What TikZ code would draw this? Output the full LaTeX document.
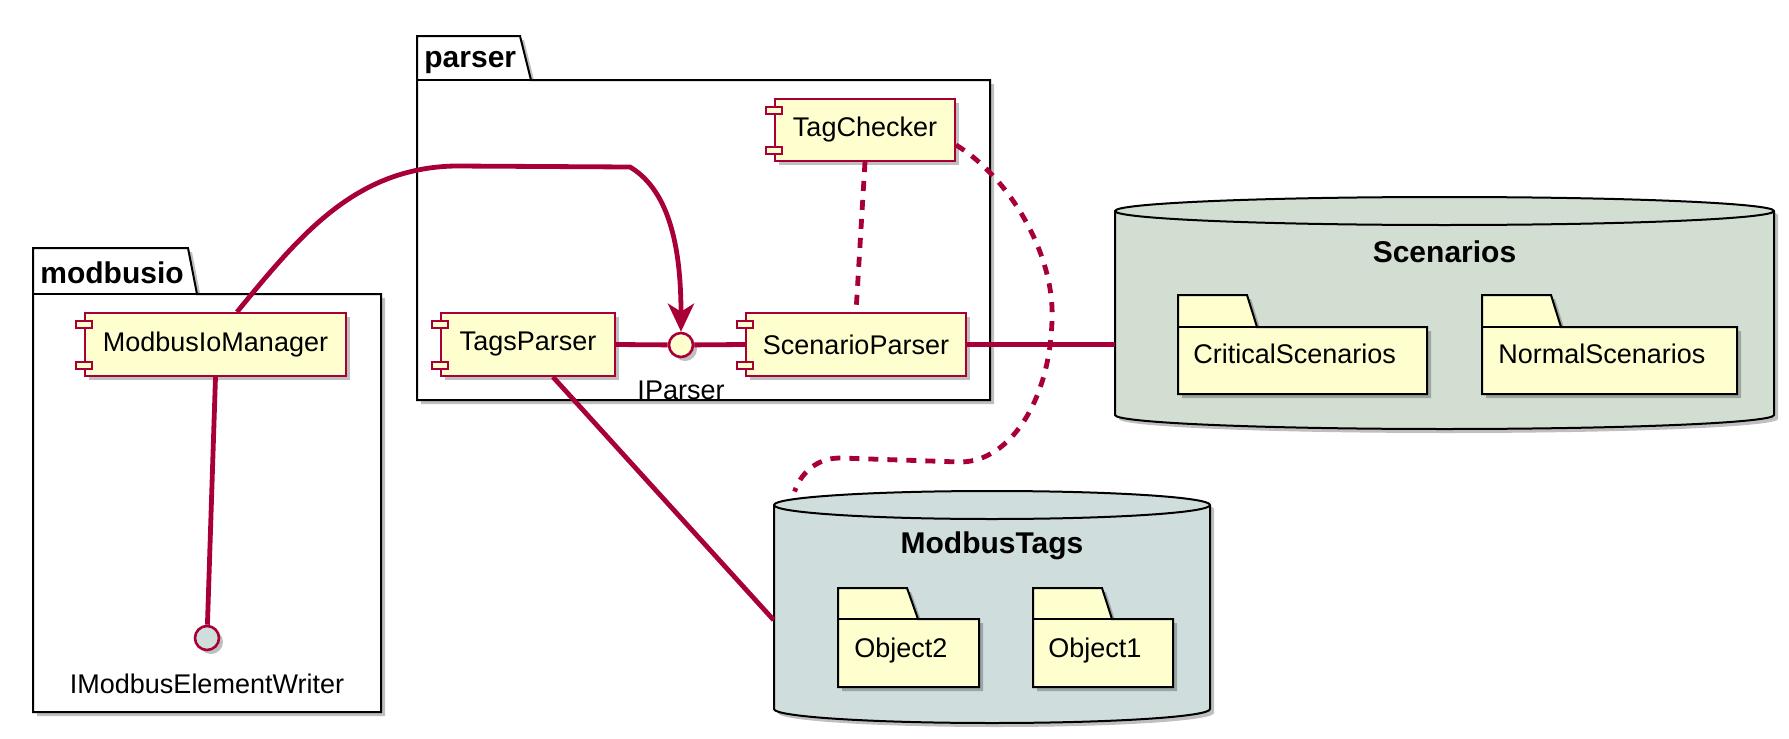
\documentclass[tikz,border=0pt]{standalone}
\usepackage{fontspec}
\setmainfont{Liberation Sans}
\usetikzlibrary{arrows.meta,shadows}

\definecolor{umlred}{HTML}{A80036}
\definecolor{umlfill}{HTML}{FEFECE}
\definecolor{scenfill}{HTML}{D3DED3}
\definecolor{tagsfill}{HTML}{CFDDDD}

\begin{document}
\begin{tikzpicture}[x=0.5pt,y=-0.5pt]
    \tikzstyle{shadowed} = [drop shadow={shadow xshift=2pt,shadow yshift=-2pt,opacity=0.25,fill=black}]
    \tikzstyle{comp} = [draw=umlred, fill=umlfill, line width=1pt, minimum height=31.5pt, inner sep=0pt, font=\fontsize{13.5}{16}\selectfont, shadowed]
    \tikzstyle{port} = [draw=umlred, fill=umlfill, line width=1pt]
    \tikzstyle{iface} = [draw=umlred, line width=1.3pt, circle, minimum size=12pt, inner sep=0pt, shadowed]
    \tikzstyle{ifacelabel} = [font=\fontsize{13.5}{16}\selectfont, inner sep=0pt, yshift=-11pt]
    \tikzstyle{pkg} = [draw=black, fill=white, line width=1pt, shadowed]
    \tikzstyle{cyl} = [draw=black, line width=1pt, shadowed]
    \tikzstyle{folder} = [draw=black, fill=umlfill, line width=1pt, shadowed]
    \tikzstyle{pkglabel} = [font=\fontsize{15}{18}\selectfont\bfseries, inner sep=0pt]
    \tikzstyle{txt} = [font=\fontsize{13.5}{16}\selectfont, inner sep=0pt]
    \tikzstyle{link} = [draw=umlred, line width=2.4pt]
    \tikzstyle{dots} = [link, dash pattern=on 5pt off 4.5pt]
    \tikzstyle{arrow} = [link, -{Stealth[length=14pt,width=13pt,inset=4pt]}]

    \useasboundingbox (0,0) rectangle (1789,739);

    % modbusio package
    \draw[pkg] (33,248) -- (188,248) -- (197,294) -- (381,294) -- (381,712) -- (33,712) -- cycle;
    \draw[line width=1pt] (33,294) -- (197,294);
    \node[pkglabel, anchor=base west] (modbusio) at (40,283) {modbusio};

    % parser package
    \draw[pkg] (417,36) -- (520,36) -- (531,80) -- (990,80) -- (990,400) -- (417,400) -- cycle;
    \draw[line width=1pt] (417,80) -- (531,80);
    \node[pkglabel, anchor=base west] (parser) at (424,68) {parser};

    % Scenarios database
    \draw[cyl, fill=scenfill] (1115,211) -- (1115,415) arc[start angle=180,end angle=360,x radius=164.75pt,y radius=7pt]
        -- (1774,211) arc[start angle=0,end angle=180,x radius=164.75pt,y radius=7pt] -- cycle;
    \draw[line width=1pt] (1115,211) arc[start angle=180,end angle=360,x radius=164.75pt,y radius=7pt];
    \node[inner sep=0pt, minimum width=329.5pt, minimum height=115.5pt] (scen) at (1444.5,313.5) {};
    \node[pkglabel, anchor=base] (scenlabel) at (1444.5,262) {Scenarios};

      % folders inside Scenarios
      \draw[folder] (1178,295) -- (1247,295) -- (1257,327) -- (1427,327) -- (1427,394) -- (1178,394) -- cycle;
      \draw[line width=1pt] (1178,327) -- (1257,327);
      \node[txt, anchor=base west] (critical) at (1193,363) {CriticalScenarios};

      \draw[folder] (1482,295) -- (1551,295) -- (1561,327) -- (1737,327) -- (1737,394) -- (1482,394) -- cycle;
      \draw[line width=1pt] (1482,327) -- (1561,327);
      \node[txt, anchor=base west] (normal) at (1498,363) {NormalScenarios};

    % ModbusTags database
    \draw[cyl, fill=tagsfill] (774,505) -- (774,709) arc[start angle=180,end angle=360,x radius=109pt,y radius=7pt]
        -- (1210,505) arc[start angle=0,end angle=180,x radius=109pt,y radius=7pt] -- cycle;
    \draw[line width=1pt] (774,505) arc[start angle=180,end angle=360,x radius=109pt,y radius=7pt];
    \node[inner sep=0pt, minimum width=218pt, minimum height=116pt] (tags) at (992,607) {};
    \node[pkglabel, anchor=base] (tagslabel) at (992,553) {ModbusTags};

      % folders inside ModbusTags
      \draw[folder] (838,588) -- (907,588) -- (918,619) -- (979,619) -- (979,687) -- (838,687) -- cycle;
      \draw[line width=1pt] (838,619) -- (918,619);
      \node[txt, anchor=base west] (obj2) at (854,657) {Object2};

      \draw[folder] (1033,588) -- (1102,588) -- (1112,619) -- (1173,619) -- (1173,687) -- (1033,687) -- cycle;
      \draw[line width=1pt] (1033,619) -- (1112,619);
      \node[txt, anchor=base west] (obj1) at (1048,657) {Object1};

    % components
    \node[comp, minimum width=130.5pt] (mim) at (215.5,344.5) {ModbusIoManager};
    \node[comp, minimum width=87pt] (tagsp) at (528,344.5) {TagsParser};
    \node[comp, minimum width=110pt] (scenp) at (856,344.5) {ScenarioParser};
    \node[comp, minimum width=90pt, minimum height=31pt] (tagc) at (865,130) {TagChecker};
    \foreach \c in {mim,tagsp,scenp,tagc} {
      \draw[port] ([xshift=-4pt,yshift=-4.5pt]\c.north west) rectangle ++(8pt,-3.5pt);
      \draw[port] ([xshift=-4pt,yshift=4pt]\c.south west) rectangle ++(8pt,3.5pt);
    }

    % interfaces
    \node[iface, fill=umlfill, label={[ifacelabel]below:IParser}] (iparser) at (681,345) {};
    \node[iface, fill=tagsfill, label={[ifacelabel]below:IModbusElementWriter}] (iwriter) at (207,638) {};

    % connectors
    \draw[link] (tagsp.east) -- (iparser);
    \draw[link] (iparser) -- (scenp.west);
    \draw[link] (scenp.east) -- (scenp.east -| scen.west);
    \draw[link] (mim.south) -- (iwriter);
    \draw[link] ([xshift=12.5pt]tagsp.south) -- ([yshift=-6.5pt]tags.west);
    \draw[arrow] ([xshift=10.75pt]mim.north) .. controls (300,235) and (355,168) .. (455,166)
        -- (630,167) .. controls (672,192) and (681,255) .. (iparser.north);
    \draw[dots] (tagc.south) -- (scenp.north);
    \draw[dots] ([yshift=-7.5pt]tagc.east) .. controls (1010,178) and (1055,255) .. (1052,320)
        .. controls (1050,400) and (1010,462) .. (960,462) -- (840,458)
        .. controls (815,458) and (800,475) .. ([xshift=10.5pt,yshift=-0.5pt]tags.north west);
\end{tikzpicture}
\end{document}
